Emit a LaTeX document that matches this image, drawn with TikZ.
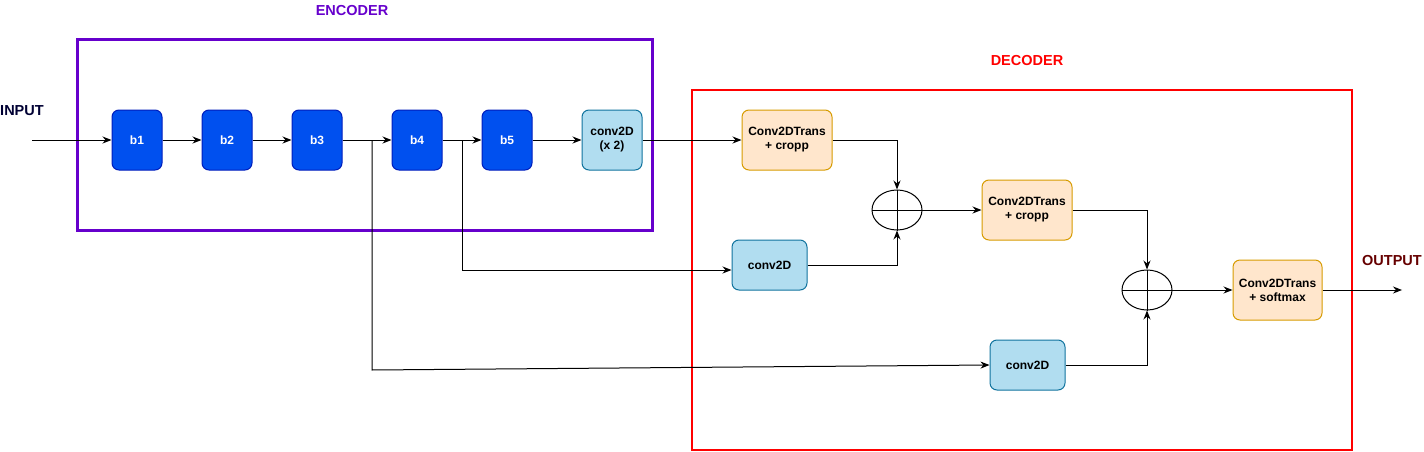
\documentclass[tikz,border=0pt]{standalone}
\usepackage{fontspec}
\setmainfont{Liberation Sans}
\usetikzlibrary{arrows.meta,shapes.geometric,calc}
\definecolor{encpurple}{HTML}{6600CC}
\definecolor{decred}{HTML}{FF0000}
\definecolor{inputcol}{HTML}{000033}
\definecolor{outputcol}{HTML}{660000}
\definecolor{bfill}{HTML}{0050EF}
\definecolor{bdraw}{HTML}{001DBC}
\definecolor{cfill}{HTML}{B1DDF0}
\definecolor{cdraw}{HTML}{10739E}
\definecolor{tfill}{HTML}{FFE6CC}
\definecolor{tdraw}{HTML}{D79B00}
\tikzset{
  blk/.style={draw=bdraw, fill=bfill, rounded corners=7pt, line width=1pt, inner sep=0pt,
    minimum width=50pt, minimum height=60pt, text=white, font=\fontsize{12pt}{14pt}\selectfont\bfseries, align=center},
  convbox/.style={draw=cdraw, fill=cfill, rounded corners=7pt, line width=1pt, inner sep=0pt,
    minimum height=50pt, text=black, font=\fontsize{12pt}{14pt}\selectfont\bfseries, align=center},
  transbox/.style={draw=tdraw, fill=tfill, rounded corners=7pt, line width=1pt, inner sep=0pt,
    minimum width=90pt, minimum height=60pt, text=black, font=\fontsize{12pt}{14pt}\selectfont\bfseries, align=center},
  sumnode/.style={draw=black, ellipse, line width=1pt, inner sep=0pt, minimum width=50pt, minimum height=40pt},
  title/.style={font=\fontsize{14.5pt}{17pt}\selectfont\bfseries, inner sep=0pt},
  conn/.style={draw=black, line width=1pt, -{Stealth[length=9pt,width=7pt]}},
  plain/.style={draw=black, line width=1pt},
}
\begin{document}
\begin{tikzpicture}[x=1pt,y=-1pt]
\useasboundingbox (0,0) rectangle (1424,452);
% frames
\draw[encpurple, line width=3pt] (77,40) rectangle (652,230);
\draw[decred, line width=2pt] (692,90) rectangle (1352,450);
% titles
\node[title, text=encpurple] (enc) at (352,11) {ENCODER};
\node[title, text=decred] (dec) at (1027,61) {DECODER};
\node[title, text=inputcol] (inp) at (22,111) {INPUT};
\node[title, text=outputcol] (outp) at (1392,261) {OUTPUT};
% encoder blocks
\node[blk] (b1) at (137,140) {b1};
\node[blk] (b2) at (227,140) {b2};
\node[blk] (b3) at (317,140) {b3};
\node[blk] (b4) at (417,140) {b4};
\node[blk] (b5) at (507,140) {b5};
\node[convbox, minimum width=60pt, minimum height=60pt] (c0) at (612,140) {conv2D\\(x 2)};
% decoder
\node[transbox] (t1) at (787,140) {Conv2DTrans\\+ cropp};
\node[sumnode] (s1) at (897,210) {};
\node[transbox] (t2) at (1027,210) {Conv2DTrans\\+ cropp};
\node[convbox, minimum width=75pt] (c1) at (769.5,265) {conv2D};
\node[sumnode] (s2) at (1147,290) {};
\node[transbox, minimum width=89pt] (t3) at (1277.5,290) {Conv2DTrans\\+ softmax};
\node[convbox, minimum width=75pt] (c2) at (1027.5,365) {conv2D};
% cross in sum nodes
\draw[plain] (s1.west) -- (s1.east) (s1.north) -- (s1.south);
\draw[plain] (s2.west) -- (s2.east) (s2.north) -- (s2.south);
% coordinates
\coordinate (in) at (32,140);
\coordinate (out) at (1402,290);
\coordinate (k3) at (372,140);
\coordinate (k3d) at (372,370);
\coordinate (k4) at (462,140);
\coordinate (k4d) at (462,270);
% connectors
\draw[conn] (in) -- (b1);
\draw[conn] (b1) -- (b2);
\draw[conn] (b2) -- (b3);
\draw[conn] (b3) -- (b4);
\draw[conn] (b4) -- (b5);
\draw[conn] (b5) -- (c0);
\draw[conn] (c0) -- (t1);
\draw[conn] (k3) -- (k3d) -- (c2.west);
\draw[conn] (k4) -- (k4d) -- (k4d -| c1.west);
\draw[conn] (t1.east) -| (s1.north);
\draw[conn] (c1.east) -| (s1.south);
\draw[conn] (s1.east) -- (t2.west);
\draw[conn] (t2.east) -| (s2.north);
\draw[conn] (c2.east) -| (s2.south);
\draw[conn] (s2.east) -- (t3.west);
\draw[conn] (t3.east) -- (out);
\end{tikzpicture}
\end{document}
